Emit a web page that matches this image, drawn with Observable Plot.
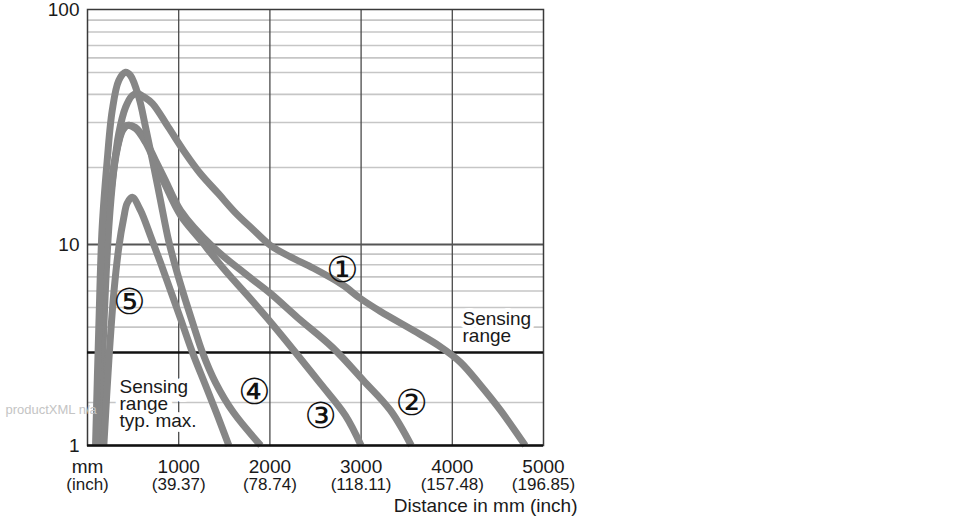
<!DOCTYPE html>
<html><head><meta charset="utf-8">
<script src="https://cdn.jsdelivr.net/npm/d3@7"></script>
<script src="https://cdn.jsdelivr.net/npm/@observablehq/plot@0.6"></script>
<style>body{margin:0;background:#fff;} #chart svg{display:block}</style>
</head><body><div id="chart"></div>
<script>
// ---- data ----
const curveNames = ["1", "2", "3", "4", "5"];
const c1Dist = [143,179,234,288,343,417,490,548,614,713,888,1075,1239,1436,1623,1809,2007,2226,2478,2796,2993,3213,3575,3871,4090,4309,4529,4800];
const c1Val  = [1,4.0,11.7,19.5,27.2,35.0,39.5,40.3,39.1,36.4,28.7,22.7,18.9,15.8,13.3,11.5,9.89,8.72,7.7,6.42,5.52,4.78,3.85,3.2,2.77,2.30,1.76,1];
const c2Dist = [106,143,197,252,326,380,435,526,636,746,855,1020,1382,1754,2007,2303,2686,3026,3322,3550];
const c2Val  = [1,4.0,10.1,16.7,23.9,27.9,29.2,28.7,25.5,21.3,17.8,13.6,9.67,7.11,5.83,4.46,3.18,2.39,1.76,1];
const c3Dist = [121,154,208,263,329,384,435,526,636,746,855,1020,1239,1491,1754,1974,2281,2555,2829,3000];
const c3Val  = [1,4.0,10.1,16.7,23.9,27.9,29.2,28.4,25.1,20.7,17.0,13.0,10.4,7.68,5.71,4.41,3.0,2.33,1.62,1];
const c4Dist = [88,124,161,216,271,343,417,471,563,636,713,800,888,976,1075,1173,1261,1404,1601,1900];
const c4Val  = [1,4.0,11.7,21.3,33.9,46.1,50.2,48.5,38.8,28.8,21.3,14.9,10.4,7.51,5.40,3.94,3.0,2.35,1.70,1];
const c5Dist = [179,234,288,343,398,435,490,581,691,800,910,1020,1151,1294,1425,1550];
const c5Val  = [1,2.81,5.83,9.67,12.75,14.5,15.3,13.6,10.8,8.2,6.03,4.41,3.0,2.30,1.62,1];

const xTicks = [0, 1000, 2000, 3000, 4000, 5000];
const xTickMm = ["mm", "1000", "2000", "3000", "4000", "5000"];
const xTickInch = ["(inch)", "(39.37)", "(78.74)", "(118.11)", "(157.48)", "(196.85)"];
const yTicks = [1, 10, 100];
const yMinorGrid = [2, 4, 5, 6, 7, 8, 9, 20, 30, 40, 50, 60, 70, 80, 90];
const yMajorGrid = [10];
const xGrid = [1000, 2000, 3000, 4000];
const sensingLimit = [3];
const baseLine = [1];

const circledText = ["①", "②", "③", "④", "⑤"];
const circledX = [2796, 3553, 2555, 1831, 460];
const circledY = [7.5, 1.97, 1.6, 2.17, 5.28];

const sensingText = ["Sensing\nrange", "Sensing\nrange\ntyp. max."];
const sensingX = [4112, 351];
const sensingY = [4.75, 2.39];

const xTitle = "Distance in mm (inch)";
const watermark = "productXML n/a";

// ---- build table ----
const series = [[c1Dist, c1Val], [c2Dist, c2Val], [c3Dist, c3Val], [c4Dist, c4Val], [c5Dist, c5Val]];
const rows = [];
series.forEach(([d, v], k) => d.forEach((x, i) => rows.push({curve: curveNames[k], x, y: v[i]})));
const mmMap = new Map(xTicks.map((t, i) => [t, xTickMm[i]]));
const inchMap = new Map(xTicks.map((t, i) => [t, xTickInch[i]]));

const ink = "#1a1a1a";
const chart = Plot.plot({
  width: 970,
  height: 520,
  marginLeft: 87,
  marginRight: 427,
  marginTop: 9,
  marginBottom: 75,
  style: {fontFamily: "'Liberation Sans', Arial, sans-serif", fontSize: "19px", color: ink, background: "#fff", overflow: "visible"},
  x: {domain: [0, 5000], range: [87, 543]},
  y: {type: "log", domain: [1, 2, 3, 5, 10, 20, 30, 50, 70, 100], range: [445, 402, 352, 307, 244, 167, 122, 72, 45, 9]},
  marks: [
    Plot.ruleY(yMinorGrid, {stroke: "#c6c6c6", strokeWidth: 1.6}),
    Plot.ruleX(xGrid, {stroke: "#4a4a4a", strokeWidth: 1.3}),
    Plot.ruleY(yMajorGrid, {stroke: "#555", strokeWidth: 2}),
    Plot.frame({stroke: "#3a3a3a", strokeWidth: 1.5}),
    Plot.ruleY(sensingLimit, {stroke: "#111", strokeWidth: 2.5}),
    Plot.text([sensingText[0]], {x: () => sensingX[0], y: () => sensingY[0], text: d => d, textAnchor: "start", lineAnchor: "top", lineHeight: 0.93, fontSize: 19, fill: ink, stroke: "white", strokeWidth: 8, paintOrder: "stroke"}),
    Plot.text([sensingText[1]], {x: () => sensingX[1], y: () => sensingY[1], text: d => d, textAnchor: "start", lineAnchor: "top", lineHeight: 0.9, fontSize: 19, fill: ink, stroke: "white", strokeWidth: 10, paintOrder: "stroke"}),
    Plot.line(rows, {x: "x", y: "y", z: "curve", stroke: "#868686", strokeWidth: 7, curve: "catmull-rom", strokeLinecap: "butt", strokeLinejoin: "round"}),
    Plot.ruleY(baseLine, {stroke: "#111", strokeWidth: 2.5}),
    Plot.text(circledText, {x: (d, i) => circledX[i], y: (d, i) => circledY[i], text: d => d, fontFamily: "DejaVu Sans", fontSize: 36, fill: "#111"}),
    Plot.axisY({ticks: yTicks, tickFormat: d => String(d), tickSize: 0, tickPadding: 8, fontSize: 19, label: null}),
    Plot.axisX({ticks: xTicks, tickFormat: d => mmMap.get(d), tickSize: 0, tickPadding: 13.5, fontSize: 19, label: null}),
    Plot.axisX({ticks: xTicks, tickFormat: d => inchMap.get(d), tickSize: 0, tickPadding: 32, fontSize: 17, label: null}),
    Plot.text([xTitle], {frameAnchor: "bottom-right", text: d => d, textAnchor: "end", lineAnchor: "middle", dx: 34, dy: 60, fontSize: 19, fill: ink}),
    Plot.text([watermark], {frameAnchor: "bottom-left", text: d => d, textAnchor: "start", lineAnchor: "middle", dx: -82, dy: -36, fontSize: 13, fill: "#c4c4c4"})
  ]
});
document.getElementById("chart").append(chart);
</script>
</body></html>
